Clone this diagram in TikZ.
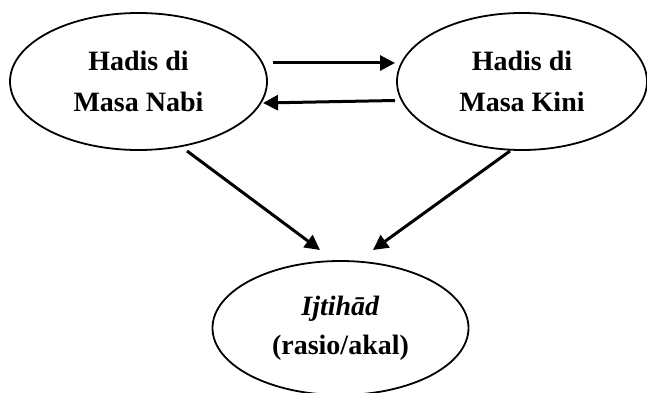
\documentclass[tikz,border=0pt]{standalone}
\usepackage{fontspec}
\setmainfont{Liberation Serif}
\usetikzlibrary{shapes.geometric,arrows.meta}
\begin{document}
\begin{tikzpicture}[x=1pt,y=-1pt,
  oval/.style={draw,line width=1.8pt,ellipse,inner sep=0pt,align=center,
    font=\fontsize{28}{41}\selectfont\bfseries},
  conn/.style={line width=3pt,-{Triangle[length=15pt,width=15pt]}}]
\useasboundingbox (0,0) rectangle (647,393);
\node[oval,minimum width=257pt,minimum height=137pt] (nabi) at (138.5,81.5) {Hadis di\\Masa Nabi};
\node[oval,minimum width=250pt,minimum height=137pt] (kini) at (522,81.5) {Hadis di\\Masa Kini};
\node[oval,minimum width=256pt,minimum height=134pt,font=\fontsize{28}{39}\selectfont\bfseries] (ijt) at (340.5,328) {\textit{Ijtihād}\\(rasio/akal)};
\coordinate (a1s) at (273,63);
\coordinate (a1e) at (395,63);
\coordinate (a2s) at (395,100.5);
\coordinate (a2e) at (263,103);
\coordinate (a3s) at (187,151);
\coordinate (a3e) at (320,250);
\coordinate (a4s) at (510,151);
\coordinate (a4e) at (373,250);
\draw[conn] (a1s) -- (a1e);
\draw[conn] (a2s) -- (a2e);
\draw[conn] (a3s) -- (a3e);
\draw[conn] (a4s) -- (a4e);
\end{tikzpicture}
\end{document}
